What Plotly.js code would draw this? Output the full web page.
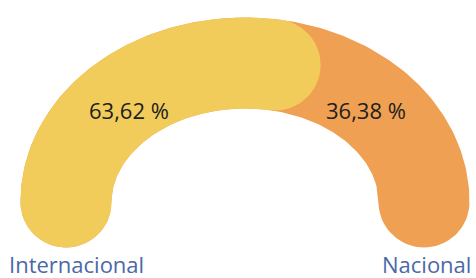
<!DOCTYPE html>
<html>
<head>
<meta charset="utf-8">
<script src="https://cdn.plot.ly/plotly-3.0.1.min.js"></script>
<style>html,body{margin:0;padding:0;background:#fff;}#chart{width:476px;height:278px;}</style>
</head>
<body>
<div id="chart"></div>
<script>
// ---- data ----
const categories = ['Internacional', 'Nacional'];
const values = [63.62, 36.38];
const valueLabels = ['63,62 %', '36,38 %'];
const colors = ['#F2CC5A', '#F0A052'];

// ---- geometry (pixel-like axes) ----
const W = 476, H = 278;
const cx = 245, cy = 202, a = 179, b = 139, thick = 91, h = thick / 2;

function P(t) { return [cx + a * Math.cos(t), cy - b * Math.sin(t)]; }
function D(t) { return [-a * Math.sin(t), -b * Math.cos(t)]; }
function unit(v) { const l = Math.hypot(v[0], v[1]); return [v[0] / l, v[1] / l]; }

// stroke along ellipse from t0 down to t1 (t0 > t1), round caps
function strokePoly(t0, t1) {
  const n = 160, xs = [], ys = [];
  const outer = [], inner = [];
  for (let i = 0; i <= n; i++) {
    const t = t0 + (t1 - t0) * i / n;
    const p = P(t), T = unit(D(t));
    const N = [-T[1], T[0]];
    outer.push([p[0] + h * N[0], p[1] + h * N[1]]);
    inner.push([p[0] - h * N[0], p[1] - h * N[1]]);
  }
  outer.forEach(q => { xs.push(q[0]); ys.push(q[1]); });
  {
    const p = P(t1), T = unit(D(t1)), N = [-T[1], T[0]], d = [-T[0], -T[1]];
    for (let k = 1; k < 40; k++) {
      const s = Math.PI * k / 40;
      xs.push(p[0] + h * (Math.cos(s) * N[0] + Math.sin(s) * d[0]));
      ys.push(p[1] + h * (Math.cos(s) * N[1] + Math.sin(s) * d[1]));
    }
  }
  for (let i = inner.length - 1; i >= 0; i--) { xs.push(inner[i][0]); ys.push(inner[i][1]); }
  {
    const p = P(t0), T = unit(D(t0)), N = [-T[1], T[0]], d = [-T[0], -T[1]];
    for (let k = 1; k < 40; k++) {
      const s = Math.PI * k / 40;
      xs.push(p[0] + h * (-Math.cos(s) * N[0] - Math.sin(s) * d[0]));
      ys.push(p[1] + h * (-Math.cos(s) * N[1] - Math.sin(s) * d[1]));
    }
  }
  xs.push(xs[0]); ys.push(ys[0]);
  return { xs, ys };
}

function stepBack(t, dist) {
  let acc = 0, dt = 0.0005;
  while (acc < dist) { const d = D(t); acc += Math.hypot(d[0], d[1]) * dt; t += dt; }
  return t;
}

const total = values.reduce((s, v) => s + v, 0);
const tVal = Math.PI - (values[0] / total) * Math.PI;
const tEnd = stepBack(tVal, h);

const full = strokePoly(Math.PI, 0);
const first = strokePoly(Math.PI, tEnd);

const traces = [
  { x: full.xs, y: full.ys, type: 'scatter', mode: 'lines', fill: 'toself',
    fillcolor: colors[1], line: { width: 0, color: colors[1] }, hoverinfo: 'skip', name: categories[1] },
  { x: first.xs, y: first.ys, type: 'scatter', mode: 'lines', fill: 'toself',
    fillcolor: colors[0], line: { width: 0, color: colors[0] }, hoverinfo: 'skip', name: categories[0] }
];

const font = 'Open Sans, Noto Sans, sans-serif';
const annotations = [
  { x: 129, y: 110, text: valueLabels[0], showarrow: false, xanchor: 'center', yanchor: 'middle',
    font: { family: font, size: 22, color: '#1e1e1e' } },
  { x: 365.5, y: 110, text: valueLabels[1], showarrow: false, xanchor: 'center', yanchor: 'middle',
    font: { family: font, size: 22, color: '#1e1e1e' } },
  { x: 8, y: 264, text: categories[0], showarrow: false, xanchor: 'left', yanchor: 'middle',
    height: 20, borderpad: 0, valign: 'middle',
    font: { family: font, size: 22, color: '#4A69A6' } },
  { x: 472, y: 264, text: categories[1], showarrow: false, xanchor: 'right', yanchor: 'middle',
    height: 20, borderpad: 0, valign: 'middle',
    font: { family: font, size: 22, color: '#4A69A6' } }
];

const layout = {
  width: W, height: H,
  margin: { l: 0, r: 0, t: 0, b: 0 },
  paper_bgcolor: '#ffffff', plot_bgcolor: '#ffffff',
  showlegend: false,
  xaxis: { range: [0, W], visible: false, fixedrange: true },
  yaxis: { range: [H, 0], visible: false, fixedrange: true },
  annotations
};

Plotly.newPlot('chart', traces, layout, { staticPlot: true, displayModeBar: false });
</script>
</body>
</html>
